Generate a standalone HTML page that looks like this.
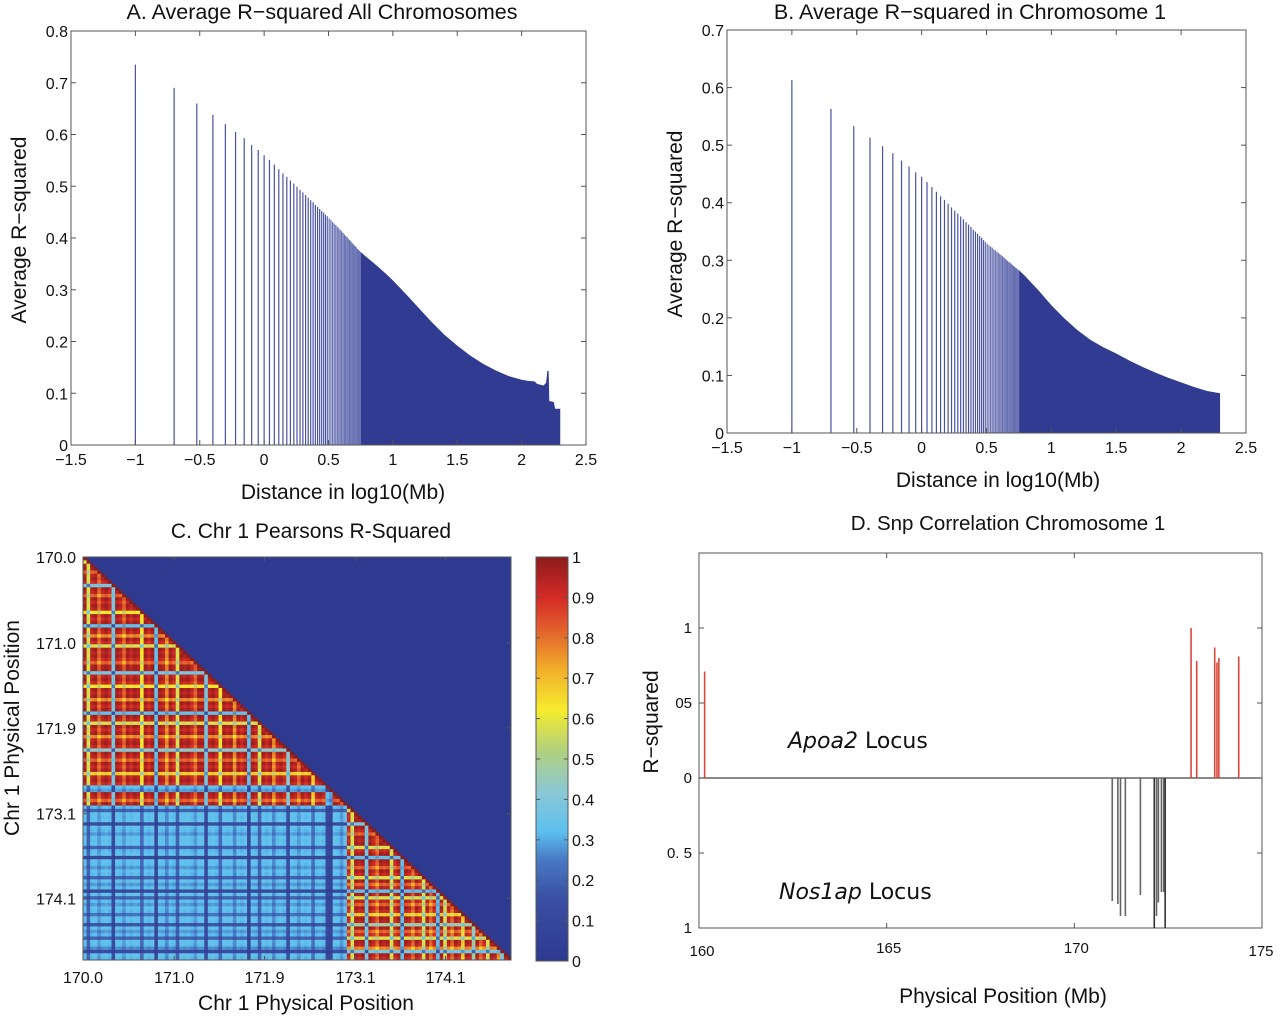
<!DOCTYPE html>
<html><head><meta charset="utf-8"><style>
html,body{margin:0;padding:0;background:#fff;}
svg{display:block;font-family:"Liberation Sans",Arial,sans-serif;}
</style></head><body>
<svg id="fig" width="1280" height="1017" viewBox="0 0 1280 1017" xmlns="http://www.w3.org/2000/svg">
<defs>
<linearGradient id="cbar" x1="0" y1="1" x2="0" y2="0">
<stop offset="0" stop-color="#2e3a8f"/><stop offset="0.15" stop-color="#3a4ea0"/><stop offset="0.25" stop-color="#4878c4"/><stop offset="0.32" stop-color="#5cc0ef"/><stop offset="0.42" stop-color="#8cc8d4"/><stop offset="0.52" stop-color="#b0d07e"/><stop offset="0.62" stop-color="#f6ec2e"/><stop offset="0.72" stop-color="#f2b02a"/><stop offset="0.82" stop-color="#e2602c"/><stop offset="0.9" stop-color="#d42a26"/><stop offset="1" stop-color="#8b1c1c"/>
</linearGradient>
</defs>
<g id="pA"></g>
<g id="pB"></g>
<g id="pC"></g>
<g id="pD"></g>
</svg>
<script>
// ---------- Panel A data ----------
const aSparseK = [1,2,3,4,5,6,7,8,9,10,11,12,13,14,15,16,17,18,19,20,21,22,23,24,25,26,27,28,29,30,31,32,33,34,35,36,37,38,39,40,41,42,43,44,45,46,47,48,49,50,51,52,53,54,55,56];
const aSparseVals = [.735,.69,.66,.638,.62,.605,.593,.58,.57,.56,.551,.542,.533,.525,.518,.511,.505,.499,.493,.488,.483,.478,.473,.469,.464,.460,.456,.452,.449,.445,.442,.438,.435,.431,.428,.425,.422,.419,.416,.413,.410,.407,.404,.402,.399,.396,.394,.391,.389,.386,.384,.382,.379,.377,.375,.373];
const aDenseX = [0.75,0.8,0.85,0.9,0.95,1.0,1.05,1.1,1.2,1.3,1.4,1.5,1.6,1.7,1.8,1.9,2.0,2.05,2.1,2.12,2.17,2.19,2.2,2.21,2.215,2.25,2.26,2.3];
const aDenseVals = [.373,.362,.352,.341,.330,.318,.305,.292,.265,.238,.213,.192,.173,.157,.144,.133,.126,.124,.123,.118,.115,.12,.143,.143,.085,.083,.07,.07];
// ---------- Panel B data ----------
const bSparseK = aSparseK;
const bSparseVals = [.613,.563,.533,.513,.498,.486,.473,.463,.453,.445,.436,.427,.419,.411,.405,.398,.392,.386,.381,.376,.371,.366,.362,.358,.353,.350,.346,.342,.339,.335,.332,.329,.326,.324,.322,.319,.317,.315,.313,.311,.309,.307,.305,.303,.301,.299,.297,.296,.294,.292,.290,.289,.287,.286,.284,.283];
const bDenseX = [0.75,0.8,0.85,0.9,0.95,1.0,1.1,1.2,1.3,1.4,1.5,1.6,1.7,1.8,1.9,2.0,2.1,2.2,2.3];
const bDenseVals = [.283,.272,.260,.248,.235,.222,.199,.179,.162,.149,.138,.126,.115,.105,.096,.088,.080,.073,.069];
const xTicksAB = [-1.5,-1,-0.5,0,0.5,1,1.5,2,2.5];
const xTickLabelsAB = ["\u22121.5","\u22121","\u22120.5","0","0.5","1","1.5","2","2.5"];
const yTicksA = [0,0.1,0.2,0.3,0.4,0.5,0.6,0.7,0.8];
const yTicksB = [0,0.1,0.2,0.3,0.4,0.5,0.6,0.7];
// ---------- Panel C data ----------
const snpFactor = [1,.6,.97,1,.85,.97,1,.95,.4,1,.97,.85,1,.95,1,.97,.65,1,.95,1,.35,1,.97,.8,1,.95,.6,1,.97,1,.95,.85,1,1,.4,.97,1,.95,.65,1,.97,1,.8,1,.95,1,.35,1,.97,.6,1,.95,1,.8,.97,1,.95,.45,1,.97,.85,1,.95,1,.7,.97,1,.95,.35,.3,
 1,.97,.85,1,.95,.6,1,.97,1,.4,1,.95,.85,1,.97,1,.6,.95,1,.35,1,.97,.85,1,.95,.6,1,.85,.97,.35,1,.6,.97,.85,1,.95,.7,1,.97,.5,1,.85,.95,.6,1,.97,.8,.4,1,.95];
const groupBoundary = 74;
const withinR2 = 0.98, crossR2 = 0.34;
const cTickLabels = ["170.0","171.0","171.9","173.1","174.1"];
const cTickFrac = [0,0.213,0.424,0.637,0.847];
const cbarTicks = [0,0.1,0.2,0.3,0.4,0.5,0.6,0.7,0.8,0.9,1];
// ---------- Panel D data ----------
const apoaPos = [160.15,173.11,173.26,173.74,173.80,173.85,174.38];
const apoaR2 = [0.71,1.0,0.78,0.87,0.77,0.80,0.81];
const nosPos = [171.01,171.16,171.23,171.36,171.76,172.13,172.19,172.24,172.32,172.38,172.42];
const nosR2 = [0.82,0.84,0.92,0.92,0.78,1.0,0.92,0.83,0.76,0.76,1.0];
const dXTicks = [160,165,170,175];
const dYTickVals = [1,0.5,0,-0.5,-1];
const dYTickLabels = ["1","05","0","0. 5","1"];

const NS="http://www.w3.org/2000/svg";
function mk(parent,tag,attrs,text){const e=document.createElementNS(NS,tag);for(const k in attrs)e.setAttribute(k,attrs[k]);if(text!==undefined)e.textContent=text;parent.appendChild(e);return e;}

function barPanel(g,box,xr,yr,yTicks,sparseK,sparseVals,denseX,denseVals,title,ylabel,xlabel,tpos,ylpos,xlpos){
  const sx=v=>box.l+(v-xr[0])/(xr[1]-xr[0])*(box.r-box.l);
  const sy=v=>box.b-(v-yr[0])/(yr[1]-yr[0])*(box.b-box.t);
  let d="M"+sx(denseX[0])+","+sy(0);
  denseX.forEach((x,i)=>{ d+=" L"+sx(x)+","+sy(denseVals[i]); });
  d+=" L"+sx(denseX[denseX.length-1])+","+sy(0)+" Z";
  const area=mk(g,"path",{d:d,fill:"#303b91"});
  
  
  sparseK.forEach((k,i)=>{
    const x=sx(Math.log10(k/10));
    const ln=mk(g,"line",{x1:x,x2:x,y1:sy(0),y2:sy(sparseVals[i]),stroke:i<30?"#4a53a0":"#6870b2","stroke-width":1.2});
    
    
  });
  const fr=mk(g,"rect",{x:box.l,y:box.t,width:box.r-box.l,height:box.b-box.t,fill:"none",stroke:"#555","stroke-width":1});
  
  
  xTicksAB.forEach((v,i)=>{
    const x=sx(v);
    mk(g,"line",{x1:x,x2:x,y1:box.b,y2:box.b-5,stroke:"#555"});
    mk(g,"line",{x1:x,x2:x,y1:box.t,y2:box.t+5,stroke:"#555"});
    const t=mk(g,"text",{x:x,y:box.b+20,"font-size":16,"text-anchor":"middle",fill:"#111"},xTickLabelsAB[i]);
    
    
  });
  yTicks.forEach(v=>{
    const y=sy(v);
    mk(g,"line",{x1:box.l,x2:box.l+5,y1:y,y2:y,stroke:"#555"});
    mk(g,"line",{x1:box.r,x2:box.r-5,y1:y,y2:y,stroke:"#555"});
    const t=mk(g,"text",{x:box.l-3,y:y+6,"font-size":16,"text-anchor":"end",fill:"#111"},String(v));
    
    
  });
  const tt=mk(g,"text",{x:tpos[0],y:tpos[1],"font-size":21.5,"text-anchor":"middle",fill:"#111"},title);
  
  
  const yl=mk(g,"text",{x:0,y:0,"font-size":21,"text-anchor":"middle",fill:"#111",transform:"translate("+ylpos[0]+","+ylpos[1]+") rotate(-90)"},ylabel);
  
  
  const xl=mk(g,"text",{x:xlpos[0],y:xlpos[1],"font-size":21,"text-anchor":"middle",fill:"#111"},xlabel);
  
  
}
barPanel(document.getElementById("pA"),{l:71,r:586,t:31,b:445},[-1.5,2.5],[0,0.8],yTicksA,aSparseK,aSparseVals,aDenseX,aDenseVals,
 "A. Average R\u2212squared All Chromosomes","Average R\u2212squared","Distance in log10(Mb)",[322,19],[26,230],[343,499]);
barPanel(document.getElementById("pB"),{l:727,r:1246,t:30,b:433},[-1.5,2.5],[0,0.7],yTicksB,bSparseK,bSparseVals,bDenseX,bDenseVals,
 "B. Average R\u2212squared in Chromosome 1","Average R\u2212squared","Distance in log10(Mb)",[970,19],[682,224],[998,487]);

// ---------- Panel C ----------
function cmap(v){
  const stops=[[0,[46,58,143]],[0.15,[58,78,160]],[0.25,[72,120,196]],[0.32,[92,192,239]],[0.42,[140,200,212]],[0.52,[176,208,126]],[0.62,[246,236,46]],[0.72,[242,176,42]],[0.82,[226,96,44]],[0.9,[212,42,38]],[1,[139,28,28]]];
  v=Math.max(0,Math.min(1,v));
  for(let i=1;i<stops.length;i++){ if(v<=stops[i][0]){const a=stops[i-1],b=stops[i];const t=(v-a[0])/(b[0]-a[0]);
    return "rgb("+a[1].map((c,k)=>Math.round(c+(b[1][k]-c)*t)).join(",")+")";}}
  return "rgb(139,28,28)";
}
(function(){
  const g=document.getElementById("pC");
  const L=83,R=511,T=557,B=960;
  const bg=mk(g,"rect",{x:L,y:T,width:R-L,height:B-T,fill:"#2e3a8f"});
  
  
  const N=snpFactor.length, cw=(R-L)/N, ch=(B-T)/N;
  for(let i=0;i<N;i++){for(let j=0;j<=i;j++){
    const same=(i<groupBoundary)===(j<groupBoundary);
    const v=(same?withinR2:crossR2)*snpFactor[i]*snpFactor[j];
    const c=mk(g,"rect",{x:(L+j*cw).toFixed(2),y:(T+i*ch).toFixed(2),width:(cw+0.4).toFixed(2),height:(ch+0.4).toFixed(2),fill:cmap(i===j?1:v)});
    
    
  }}
  mk(g,"rect",{x:L,y:T,width:R-L,height:B-T,fill:"none",stroke:"#555"});
  cTickFrac.forEach((f,i)=>{
    const x=L+f*(R-L), y=T+f*(B-T);
    mk(g,"line",{x1:x,x2:x,y1:B,y2:B-4,stroke:"#555"});mk(g,"line",{x1:x,x2:x,y1:T,y2:T+4,stroke:"#555"});
    mk(g,"line",{x1:L,x2:L+4,y1:y,y2:y,stroke:"#555"});mk(g,"line",{x1:R,x2:R-4,y1:y,y2:y,stroke:"#555"});
    const tx=mk(g,"text",{x:x,y:B+23,"font-size":16,"text-anchor":"middle",fill:"#111"},cTickLabels[i]);
    
    
    const ty=mk(g,"text",{x:L-7,y:y+6,"font-size":16,"text-anchor":"end",fill:"#111"},cTickLabels[i]);
    
    
  });
  const cb=mk(g,"rect",{x:536,y:557,width:32,height:404,fill:"url(#cbar)",stroke:"#555"});
  
  
  cbarTicks.forEach(v=>{
    const y=961-v*404;
    mk(g,"line",{x1:564,x2:568,y1:y,y2:y,stroke:"#555"});mk(g,"line",{x1:536,x2:540,y1:y,y2:y,stroke:"#555"});
    const t=mk(g,"text",{x:572,y:y+6,"font-size":16,fill:"#111"},String(v));
    
    
  });
  const tt=mk(g,"text",{x:311,y:538,"font-size":21,"text-anchor":"middle",fill:"#111"},"C. Chr 1 Pearsons R-Squared");
  
  
  const yl=mk(g,"text",{x:0,y:0,"font-size":21,"text-anchor":"middle",fill:"#111",transform:"translate(19,728) rotate(-90)"},"Chr 1 Physical Position");
  
  
  const xl=mk(g,"text",{x:306,y:1010,"font-size":21,"text-anchor":"middle",fill:"#111"},"Chr 1 Physical Position");
  
  
})();

// ---------- Panel D ----------
(function(){
  const g=document.getElementById("pD");
  const L=699,R=1262,T=553,B=928,Z=778;
  const sx=v=>L+(v-160)/15*(R-L);
  const sy=v=>Z-v*150;
  mk(g,"rect",{x:L,y:T,width:R-L,height:B-T,fill:"none",stroke:"#555"});
  const zl=mk(g,"line",{x1:L,x2:R,y1:Z,y2:Z,stroke:"#444","stroke-width":1.2});
  
  
  apoaPos.forEach((p,i)=>{
    const l=mk(g,"line",{x1:sx(p),x2:sx(p),y1:Z,y2:sy(apoaR2[i]),stroke:"#d9473d","stroke-width":1.6});
    
    
  });
  nosPos.forEach((p,i)=>{
    const l=mk(g,"line",{x1:sx(p),x2:sx(p),y1:Z,y2:sy(-nosR2[i]),stroke:nosR2[i]>=1?"#333":"#666","stroke-width":1.6});
    
    
  });
  dXTicks.forEach(v=>{
    const x=sx(v);
    mk(g,"line",{x1:x,x2:x,y1:B,y2:B-5,stroke:"#555"});mk(g,"line",{x1:x,x2:x,y1:T,y2:T+5,stroke:"#555"});
    const t=mk(g,"text",{x:x+(v===160?3:(v===175?-1:2)),y:v===160||v===175?956:953,"font-size":15,"text-anchor":"middle",fill:"#111"},String(v));
    
    
  });
  dYTickVals.forEach((v,i)=>{
    const y=sy(v);
    mk(g,"line",{x1:L,x2:L+5,y1:y,y2:y,stroke:"#555"});mk(g,"line",{x1:R,x2:R-5,y1:y,y2:y,stroke:"#555"});
    const t=mk(g,"text",{x:L-7,y:y+5,"font-size":15,"text-anchor":"end",fill:"#111"},dYTickLabels[i]);
    
    
  });
  const a=mk(g,"text",{x:788,y:748,"font-size":22,fill:"#111","font-family":"DejaVu Sans, Liberation Sans, sans-serif"});
  
  
  mk(a,"tspan",{"font-style":"italic"},"Apoa2");mk(a,"tspan",{},"\u00a0Locus");
  const n=mk(g,"text",{x:779,y:899,"font-size":22,fill:"#111","font-family":"DejaVu Sans, Liberation Sans, sans-serif"});
  
  
  mk(n,"tspan",{"font-style":"italic"},"Nos1ap");mk(n,"tspan",{},"\u00a0Locus");
  const tt=mk(g,"text",{x:1008,y:530,"font-size":20.5,"text-anchor":"middle",fill:"#111"},"D. Snp Correlation Chromosome 1");
  
  
  const yl=mk(g,"text",{x:0,y:0,"font-size":21,"text-anchor":"middle",fill:"#111",transform:"translate(658,722) rotate(-90)"},"R\u2212squared");
  
  
  const xl=mk(g,"text",{x:1003,y:1003,"font-size":21,"text-anchor":"middle",fill:"#111"},"Physical Position (Mb)");
  
  
})();
</script>
</body></html>
